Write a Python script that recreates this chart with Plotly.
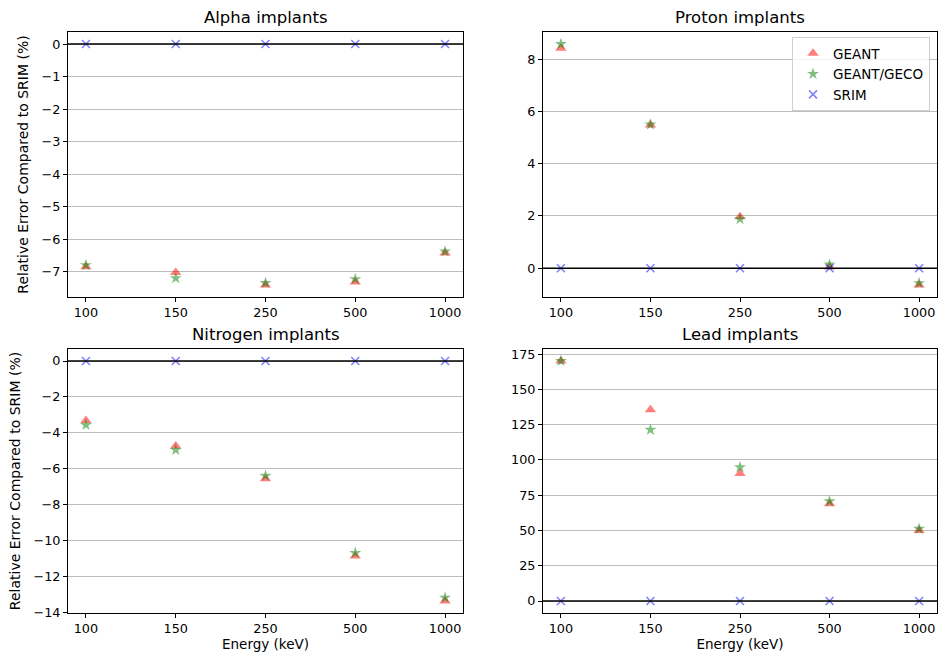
import plotly.graph_objects as go
from plotly.subplots import make_subplots

# energies (keV), shown as evenly spaced categories
energies = ["100", "150", "250", "500", "1000"]

# relative error compared to SRIM (%)
alpha_geant = [-6.85, -7.03, -7.41, -7.32, -6.43]
alpha_geco = [-6.80, -7.20, -7.35, -7.23, -6.38]
proton_geant = [8.42, 5.48, 1.97, 0.05, -0.64]
proton_geco = [8.58, 5.50, 1.88, 0.14, -0.57]
nitrogen_geant = [-3.32, -4.73, -6.56, -10.87, -13.37]
nitrogen_geco = [-3.56, -4.95, -6.39, -10.69, -13.18]
lead_geant = [170.2, 135.7, 90.5, 69.0, 50.0]
lead_geco = [170.2, 121.4, 94.8, 70.7, 51.2]
srim = [0, 0, 0, 0, 0]

panels = [
    ("Alpha implants", alpha_geant, alpha_geco, 1),
    ("Proton implants", proton_geant, proton_geco, 2),
    ("Nitrogen implants", nitrogen_geant, nitrogen_geco, 2),
    ("Lead implants", lead_geant, lead_geco, 25),
]

FONT = "DejaVu Sans"
W, H = 938, 660


def px_x(px):
    return px / W


def px_y(py):
    return 1 - py / H


fig = make_subplots(rows=2, cols=2, subplot_titles=[p[0] for p in panels],
                    horizontal_spacing=0.08, vertical_spacing=0.08)

# axes boxes, in page pixels of the reference
xdom = [[px_x(68), px_x(463)], [px_x(543), px_x(937)]]
ydom = [[px_y(297), px_y(32)], [px_y(613), px_y(349)]]

for i, (title, geant, geco, dtick) in enumerate(panels):
    row, col = i // 2 + 1, i % 2 + 1
    show = (i == 1)
    fig.add_trace(go.Scatter(
        x=energies, y=geant, mode="markers", name="GEANT", showlegend=show,
        marker=dict(symbol="triangle-up", size=10, color="red", opacity=0.5,
                    line=dict(width=0))), row=row, col=col)
    fig.add_trace(go.Scatter(
        x=energies, y=geco, mode="markers", name="GEANT/GECO", showlegend=show,
        marker=dict(symbol="star", size=9, color="green", opacity=0.5,
                    line=dict(width=0))), row=row, col=col)
    fig.add_trace(go.Scatter(
        x=energies, y=srim, mode="markers", name="SRIM", showlegend=show,
        marker=dict(symbol="x-thin", size=8, color="blue", opacity=0.5,
                    line=dict(width=1.5, color="blue"))), row=row, col=col)
    fig.add_hline(y=0, line_color="black", line_width=1.6, row=row, col=col)

    allv = geant + geco + srim
    lo, hi = min(allv), max(allv)
    pad = (hi - lo) * 0.05
    fig.update_yaxes(range=[lo - pad, hi + pad], dtick=dtick, tick0=0,
                     domain=ydom[row - 1], row=row, col=col)
    fig.update_xaxes(type="category", range=[-0.2, 4.2],
                     domain=xdom[col - 1], row=row, col=col)

# automargin off: the axes boxes stay exactly where the domains put them
fig.update_xaxes(showline=True, linecolor="black", linewidth=1, mirror=True,
                 ticks="outside", ticklen=4, tickcolor="black", showgrid=False,
                 zeroline=False, automargin=False,
                 tickfont=dict(size=12.8, color="black"))
fig.update_yaxes(showline=True, linecolor="black", linewidth=1, mirror=True,
                 ticks="outside", ticklen=4, tickcolor="black", showgrid=True,
                 gridcolor="#bdbdbd", gridwidth=1, zeroline=False, automargin=False,
                 tickfont=dict(size=12.8, color="black"))

for col in (1, 2):
    fig.update_xaxes(title=dict(text="Energy (keV)", font=dict(size=13.5, color="black"),
                                standoff=3), row=2, col=col)
for row in (1, 2):
    fig.update_yaxes(title=dict(text="Relative Error Compared to SRIM (%)",
                                font=dict(size=14, color="black"), standoff=9),
                     row=row, col=1)

# place subplot titles just above each axes box
for ann, (xd, yd) in zip(fig.layout.annotations,
                         [(xdom[0], ydom[0]), (xdom[1], ydom[0]),
                          (xdom[0], ydom[1]), (xdom[1], ydom[1])]):
    ann.update(x=(xd[0] + xd[1]) / 2, y=yd[1], yshift=3,
               font=dict(size=16.5, color="black", family=FONT))

fig.update_layout(
    width=W, height=H,
    margin=dict(l=0, r=0, t=0, b=0),
    paper_bgcolor="white", plot_bgcolor="white",
    font=dict(family=FONT, color="black"),
    hovermode=False,
    legend=dict(x=px_x(930), xanchor="right", y=px_y(37), yanchor="top",
                bgcolor="rgba(255,255,255,0.8)", bordercolor="#d0d0d0", borderwidth=1,
                font=dict(size=13.5, color="black")),
)

# pin the graph to the top-left corner of the window (no body margin / page growth)
pin = ("var gd=document.getElementById('{plot_id}');"
       "gd.style.position='fixed';gd.style.left='0px';gd.style.top='0px';"
       "document.body.style.margin='0';")
fig.write_html("out.html", config={"displayModeBar": False}, post_script=pin)
